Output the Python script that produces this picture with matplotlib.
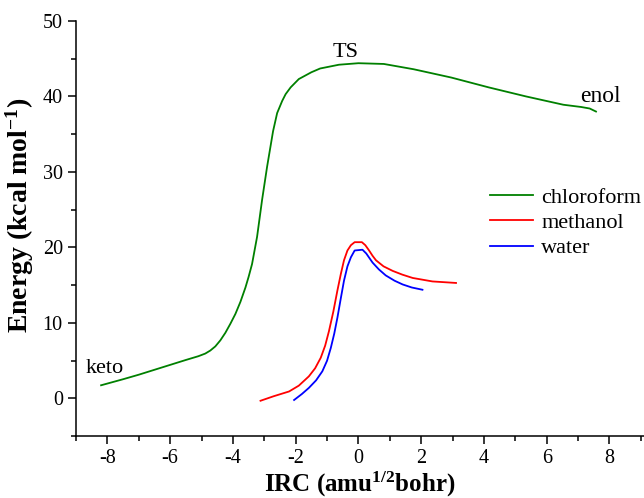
import matplotlib
matplotlib.use("Agg")
import matplotlib.pyplot as plt
from matplotlib.ticker import MultipleLocator

plt.rcParams["font.family"] = ["Liberation Serif", "DejaVu Serif"]
plt.rcParams["mathtext.fontset"] = "custom"
plt.rcParams["mathtext.rm"] = "Liberation Serif:bold"
plt.rcParams["mathtext.bf"] = "Liberation Serif:bold"
plt.rcParams["mathtext.default"] = "bf"

# IRC profiles (x in amu^1/2 bohr, energy in kcal/mol)
chloroform_x = [-8.2, -7.5, -7.0, -6.5, -6.0, -5.5, -5.1, -4.88, -4.72, -4.56,
                -4.4, -4.24, -4.08, -3.92, -3.76, -3.6, -3.5, -3.39, -3.23, -3.07,
                -2.91, -2.72, -2.59, -2.43, -2.32, -2.16, -1.9, -1.5, -1.22, -0.62,
                0.0, 0.81, 1.76, 2.96, 4.15, 5.34, 6.53, 7.1, 7.37, 7.57]
chloroform_y = [1.75, 2.55, 3.15, 3.8, 4.45, 5.1, 5.6, 5.95, 6.35, 6.9,
                7.7, 8.7, 9.9, 11.2, 12.8, 14.7, 16.1, 17.8, 21.4, 26.3,
                30.7, 35.4, 37.8, 39.4, 40.3, 41.2, 42.3, 43.2, 43.7, 44.2,
                44.4, 44.3, 43.6, 42.5, 41.2, 40.0, 38.9, 38.6, 38.4, 38.0]

methanol_x = [-3.12, -2.7, -2.21, -1.9, -1.58, -1.38, -1.2, -1.06, -0.94, -0.8,
              -0.67, -0.56, -0.46, -0.35, -0.24, -0.12, 0.11, 0.22, 0.34, 0.45,
              0.56, 0.8, 1.09, 1.4, 1.73, 2.36, 3.11]
methanol_y = [-0.3, 0.3, 0.93, 1.7, 2.93, 4.0, 5.4, 7.0, 8.9, 11.5,
              14.3, 16.5, 18.3, 19.6, 20.3, 20.7, 20.7, 20.3, 19.6, 18.9,
              18.3, 17.5, 16.9, 16.4, 15.96, 15.5, 15.3]

water_x = [-2.05, -1.8, -1.58, -1.35, -1.15, -1.0, -0.88, -0.77, -0.67, -0.56,
           -0.46, -0.35, -0.24, -0.12, 0.13, 0.25, 0.35, 0.45, 0.65, 0.87,
           1.15, 1.41, 1.7, 2.04]
water_y = [-0.2, 0.6, 1.4, 2.4, 3.6, 5.0, 6.7, 8.6, 10.7, 13.3,
           15.6, 17.5, 18.7, 19.6, 19.7, 19.2, 18.6, 18.0, 17.1, 16.3,
           15.6, 15.1, 14.7, 14.4]

fig = plt.figure(figsize=(6.44, 4.98), dpi=100)
ax = fig.add_axes([0.118, 0.124, 0.882, 0.834])

ax.plot(chloroform_x, chloroform_y, color="#008000", lw=1.3, label="chloroform")
ax.plot(methanol_x, methanol_y, color="#ff0000", lw=1.3, label="methanol")
ax.plot(water_x, water_y, color="#0000ff", lw=1.3, label="water")

ax.text(-8.1, 3.4, "keto", fontsize=16, ha="center", va="baseline")
ax.text(-0.4, 45.2, "TS", fontsize=16, ha="center", va="baseline")
ax.text(7.7, 39.3, "enol", fontsize=17, ha="center", va="baseline")

ax.set_xlim(-9, 9.1)
ax.set_ylim(-5, 50)
ax.xaxis.set_major_locator(MultipleLocator(2))
ax.xaxis.set_minor_locator(MultipleLocator(1))
ax.yaxis.set_minor_locator(MultipleLocator(5))
ax.set_yticks([0, 10, 20, 30, 40, 50])
ax.tick_params(which="major", direction="out", length=6, width=1.1, labelsize=14.5)
ax.tick_params(which="minor", direction="out", length=3.5, width=1.1)
ax.set_xticklabels([f"{v:g}" for v in ax.get_xticks()])

for side in ("top", "right"):
    ax.spines[side].set_visible(False)
for side in ("left", "bottom"):
    ax.spines[side].set_linewidth(1.1)

ax.set_xlabel(r"IRC (amu$^{1/2}$bohr)", fontsize=18, fontweight="bold", labelpad=1)
ax.set_ylabel(r"Energy (kcal mol$^{-1}$)", fontsize=20, fontweight="bold")
ax.yaxis.set_label_coords(-0.07, 0.532)

ax.legend(loc="upper left", bbox_to_anchor=(0.729, 0.6), frameon=False,
          borderpad=0, borderaxespad=0, fontsize=16, handlelength=1.95,
          handletextpad=0.36, labelspacing=0.22)

fig.savefig("out.png", dpi=100)
